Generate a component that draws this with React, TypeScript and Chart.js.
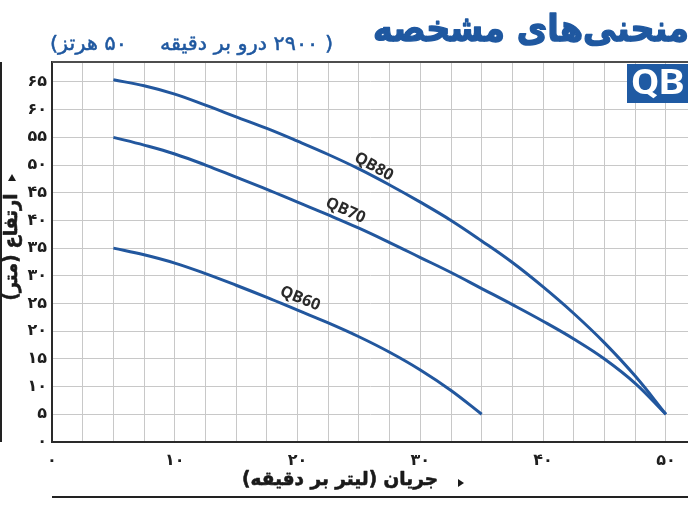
import React, { useEffect, useRef } from 'react';
import { Chart, registerables } from 'chart.js';

Chart.register(...registerables);

// ---- data ----
const flow = [5, 7.5, 10, 12.5, 15, 17.5, 20, 22.5, 25, 27.5, 30, 32.5, 35, 37.5, 40, 42.5, 45, 47.5, 50];
const headQB80 = [65.4, 64.3, 62.8, 60.8, 58.7, 56.6, 54.3, 51.9, 49.3, 46.4, 43.3, 40.0, 36.3, 32.4, 28.0, 23.2, 17.9, 11.9, 5.0];
const headQB70 = [55.0, 53.6, 52.0, 50.0, 47.8, 45.6, 43.3, 41.0, 38.6, 36.0, 33.3, 30.6, 27.7, 24.8, 21.8, 18.6, 15.0, 10.6, 5.0];
const flowQB60 = [5, 7.5, 10, 12.5, 15, 17.5, 20, 22.5, 25, 27.5, 30, 32.5, 35];
const headQB60 = [35.0, 33.8, 32.3, 30.4, 28.3, 26.1, 23.8, 21.5, 19.0, 16.2, 13.0, 9.3, 5.0];
const seriesNames = ['QB80', 'QB70', 'QB60'];

const xTickValues = [0, 10, 20, 30, 40, 50];
const xTickLabels = ['۰', '۱۰', '۲۰', '۳۰', '۴۰', '۵۰'];
const yTickValues = [0, 5, 10, 15, 20, 25, 30, 35, 40, 45, 50, 55, 60, 65];
const yTickLabels = ['۰', '۵', '۱۰', '۱۵', '۲۰', '۲۵', '۳۰', '۳۵', '۴۰', '۴۵', '۵۰', '۵۵', '۶۰', '۶۵'];

const labelFlow = [26.2, 23.9, 20.2];
const labelHead = [49.7, 41.8, 25.9];
const labelAngle = [29, 24, 22];

const titleText = 'منحنی‌های مشخصه';
const subtitleText = '( ۲۹۰۰ درو بر دقیقه     ۵۰ هرتز)';
const badgeText = 'QB';
const xTitle = 'جریان (لیتر بر دقیقه)';
const yTitle = 'ارتفاع (متر)';

const BLUE = '#1f58a0';
const LINE = '#22579e';
const FA = "'DejaVu Sans', sans-serif";

const toPoints = (xs: number[], ys: number[]) => xs.map((x, i) => ({ x, y: ys[i] }));

const decorPlugin = {
  id: 'decor',
  afterDraw(chart: any) {
    const { ctx, chartArea, scales } = chart;
    ctx.save();
    // top frame line
    ctx.strokeStyle = '#4d4d4d';
    ctx.lineWidth = 2;
    ctx.beginPath();
    ctx.moveTo(chartArea.left, chartArea.top);
    ctx.lineTo(chartArea.right, chartArea.top);
    ctx.stroke();
    // far-left rule
    ctx.strokeStyle = '#222';
    ctx.lineWidth = 2;
    ctx.beginPath();
    ctx.moveTo(1, chartArea.top);
    ctx.lineTo(1, chartArea.bottom);
    ctx.stroke();
    // bottom rule
    ctx.beginPath();
    ctx.moveTo(chartArea.left, 497);
    ctx.lineTo(chartArea.right, 497);
    ctx.stroke();

    // title
    ctx.direction = 'rtl';
    ctx.fillStyle = BLUE;
    ctx.strokeStyle = BLUE;
    ctx.lineJoin = 'round';
    ctx.textBaseline = 'alphabetic';
    ctx.textAlign = 'right';
    ctx.font = `bold 37px ${FA}`;
    let w = ctx.measureText(titleText).width;
    ctx.save();
    ctx.translate(689, 41);
    ctx.scale(316 / w, 1);
    ctx.lineWidth = 1.4;
    ctx.fillText(titleText, 0, 0);
    ctx.strokeText(titleText, 0, 0);
    ctx.restore();

    // subtitle
    ctx.font = `20px ${FA}`;
    w = ctx.measureText(subtitleText).width;
    ctx.save();
    ctx.translate(333, 50);
    ctx.scale(283 / w, 1);
    ctx.lineWidth = 0.5;
    ctx.fillText(subtitleText, 0, 0);
    ctx.strokeText(subtitleText, 0, 0);
    ctx.restore();

    // badge
    ctx.direction = 'ltr';
    ctx.fillStyle = '#1f5aa3';
    ctx.fillRect(627, 64, 61, 39);
    ctx.fillStyle = '#ffffff';
    ctx.font = "bold 35px Roboto, sans-serif";
    ctx.textAlign = 'center';
    ctx.textBaseline = 'middle';
    w = ctx.measureText(badgeText).width;
    ctx.save();
    ctx.translate(658, 85);
    ctx.scale(Math.min(1.15, 54 / w), 1);
    ctx.fillText(badgeText, 0, 0);
    ctx.restore();

    // axis titles
    ctx.fillStyle = '#1a1a1a';
    ctx.strokeStyle = '#1a1a1a';
    ctx.direction = 'rtl';
    ctx.font = `bold 19px ${FA}`;
    ctx.textAlign = 'center';
    ctx.textBaseline = 'middle';
    w = ctx.measureText(xTitle).width;
    ctx.save();
    ctx.translate(340, 480);
    ctx.scale(196 / w, 1);
    ctx.lineWidth = 0.6;
    ctx.fillText(xTitle, 0, 0);
    ctx.strokeText(xTitle, 0, 0);
    ctx.restore();
    // x arrow
    ctx.beginPath();
    ctx.moveTo(458, 479);
    ctx.lineTo(464, 483);
    ctx.lineTo(458, 487);
    ctx.closePath();
    ctx.fill();

    w = ctx.measureText(yTitle).width;
    ctx.save();
    ctx.translate(12, 247);
    ctx.rotate(-Math.PI / 2);
    ctx.scale(107 / w, 1);
    ctx.lineWidth = 0.6;
    ctx.fillText(yTitle, 0, 0);
    ctx.strokeText(yTitle, 0, 0);
    ctx.restore();
    // y arrow
    ctx.beginPath();
    ctx.moveTo(8, 181);
    ctx.lineTo(16, 181);
    ctx.lineTo(12, 174);
    ctx.closePath();
    ctx.fill();

    // curve labels
    ctx.direction = 'ltr';
    ctx.fillStyle = '#2a2a2a';
    ctx.font = "bold 16px 'Open Sans', sans-serif";
    ctx.textAlign = 'center';
    ctx.textBaseline = 'middle';
    seriesNames.forEach((name, i) => {
      const px = scales.x.getPixelForValue(labelFlow[i]);
      const py = scales.y.getPixelForValue(labelHead[i]);
      ctx.save();
      ctx.translate(px, py);
      ctx.rotate((labelAngle[i] * Math.PI) / 180);
      ctx.fillText(name, 0, 0);
      ctx.restore();
    });
    ctx.restore();
  },
};

export default function App() {
  const canvasRef = useRef<HTMLCanvasElement | null>(null);

  useEffect(() => {
    document.body.style.margin = '0';
    const canvas = canvasRef.current;
    if (!canvas) return;
    const chart = new Chart(canvas, {
      type: 'line',
      data: {
        datasets: [
          { label: seriesNames[0], data: toPoints(flow, headQB80) },
          { label: seriesNames[1], data: toPoints(flow, headQB70) },
          { label: seriesNames[2], data: toPoints(flowQB60, headQB60) },
        ].map((d) => ({
          ...d,
          borderColor: LINE,
          backgroundColor: LINE,
          borderWidth: 3,
          pointRadius: 0,
          fill: false,
          tension: 0.4,
        })),
      },
      options: {
        responsive: false,
        animation: false,
        devicePixelRatio: 1,
        layout: { padding: { top: 62, left: 0, right: 0, bottom: 0 } },
        plugins: {
          legend: { display: false },
          tooltip: { enabled: false },
          title: { display: false },
        },
        scales: {
          x: {
            type: 'linear',
            min: 0,
            max: 51.8,
            afterBuildTicks: (scale: any) => {
              const t: any[] = [];
              for (let v = 0; v <= 50; v += 2.5) t.push({ value: v });
              scale.ticks = t;
            },
            afterFit: (scale: any) => {
              scale.height = 69;
            },
            ticks: {
              autoSkip: false,
              maxRotation: 0,
              padding: 9,
              color: '#1e1e1e',
              font: { family: FA, size: 16, weight: 'bold' },
              callback: (value: any) => {
                const i = xTickValues.indexOf(Number(value));
                return i >= 0 ? xTickLabels[i] : '';
              },
            },
            grid: { color: '#c8c8c8', lineWidth: 1, drawTicks: false },
            border: { color: '#2a2a2a', width: 2 },
          },
          y: {
            type: 'linear',
            min: 0,
            max: 68.6,
            afterBuildTicks: (scale: any) => {
              scale.ticks = yTickValues.map((v) => ({ value: v }));
            },
            afterFit: (scale: any) => {
              scale.width = 52;
            },
            ticks: {
              autoSkip: false,
              padding: 5,
              color: '#1e1e1e',
              font: { family: FA, size: 16, weight: 'bold' },
              callback: (value: any) => {
                const i = yTickValues.indexOf(Number(value));
                return i >= 0 ? yTickLabels[i] : '';
              },
            },
            grid: { color: '#c8c8c8', lineWidth: 1, drawTicks: false },
            border: { color: '#2a2a2a', width: 2 },
          },
        },
      },
      plugins: [decorPlugin],
    });
    return () => chart.destroy();
  }, []);

  return (
    <div style={{ width: 688, height: 511, background: '#ffffff' }}>
      <canvas ref={canvasRef} width={688} height={511} style={{ display: 'block' }} />
    </div>
  );
}
